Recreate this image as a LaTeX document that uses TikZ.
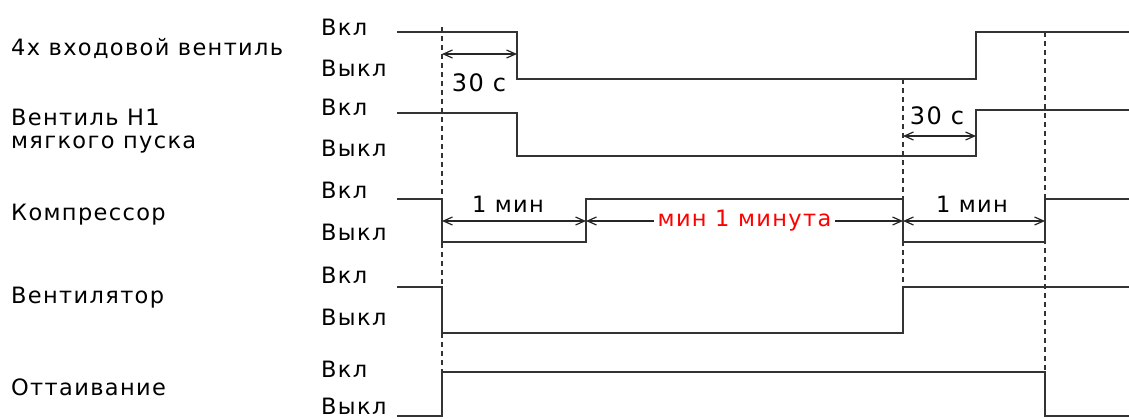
\documentclass[tikz,border=0pt]{standalone}
\usepackage{fontspec}
\setmainfont{DejaVu Sans}[LetterSpace=6]
\usetikzlibrary{arrows.meta}

\begin{document}
\begin{tikzpicture}[x=1pt, y=-1pt, font=\fontsize{22.5}{25}\selectfont]
    \tikzset{
      rowname/.style = {anchor=base west, inner sep=0pt},
      state/.style = {anchor=base west, inner sep=0pt},
      signal/.style = {line width=1.7pt, draw=black!80},
      marker/.style = {line width=1.2pt, draw=black!80, dash pattern=on 5pt off 4pt},
      span/.style = {line width=1.2pt, draw=black!85, {Straight Barb[length=9pt,width=8pt]}-{Straight Barb[length=9pt,width=8pt]}},
      delay/.style = {anchor=base, inner sep=0pt, font=\fontsize{24}{26}\selectfont}
    }
    \useasboundingbox (0,0) rectangle (1129,418);

    % row names
    \node (valve) [rowname] at (11,55) {4x входовой вентиль};
    \node (soft) [rowname] at (11,125) {Вентиль Н1};
    \node (soft2) [rowname] at (11,148) {мягкого пуска};
    \node (comp) [rowname] at (11,220) {Компрессор};
    \node (fan) [rowname] at (11,303) {Вентилятор};
    \node (defrost) [rowname] at (11,395) {Оттаивание};

    % on/off levels
    \node (on1) [state] at (321,35) {Вкл};
    \node (off1) [state] at (321,76) {Выкл};
    \node (on2) [state] at (321,115) {Вкл};
    \node (off2) [state] at (321,156) {Выкл};
    \node (on3) [state] at (321,198) {Вкл};
    \node (off3) [state] at (321,240) {Выкл};
    \node (on4) [state] at (321,283) {Вкл};
    \node (off4) [state] at (321,325) {Выкл};
    \node (on5) [state] at (321,377) {Вкл};
    \node (off5) [state] at (321,414) {Выкл};

    % signals
    \draw [signal] (397,32) -- (517,32) -- (517,79) -- (976,79) -- (976,32) -- (1129,32);
    \draw [signal] (397,113) -- (517,113) -- (517,156) -- (976,156) -- (976,110) -- (1129,110);
    \draw [signal] (397,199) -- (442,199) -- (442,242) -- (586,242) -- (586,199) -- (903,199) -- (903,242) -- (1045,242) -- (1045,199) -- (1129,199);
    \draw [signal] (397,287) -- (442,287) -- (442,333) -- (903,333) -- (903,287) -- (1129,287);
    \draw [signal] (397,416) -- (442,416) -- (442,372) -- (1045,372) -- (1045,416) -- (1129,416);

    % time marks
    \draw [marker] (442,27) -- (442,372);
    \draw [marker] (903,79) -- (903,287);
    \draw [marker] (1045,32) -- (1045,372);

    % delays
    \coordinate (v1) at (442,54);
    \coordinate (v2) at (517,54);
    \coordinate (s1) at (903,136);
    \coordinate (s2) at (976,136);
    \coordinate (c1) at (442,221);
    \coordinate (c2) at (586,221);
    \coordinate (c3) at (903,221);
    \coordinate (c4) at (1045,221);

    \draw [span] (v1) -- (v2);
    \node (d30a) [delay] at (479,91) {30 с};
    \draw [span] (s1) -- (s2);
    \node (d30b) [delay] at (937,124) {30 с};
    \draw [span] (c1) -- (c2);
    \node (min1) [delay, font=\fontsize{22.5}{25}\selectfont] at (508,212) {1 мин};
    \draw [span] (c2) -- (c3) node [midway, fill=white, inner sep=4pt, text=red] (pause) {мин 1 минута};
    \draw [span] (c3) -- (c4);
    \node (min2) [delay, font=\fontsize{22.5}{25}\selectfont] at (972,212) {1 мин};
\end{tikzpicture}
\end{document}
